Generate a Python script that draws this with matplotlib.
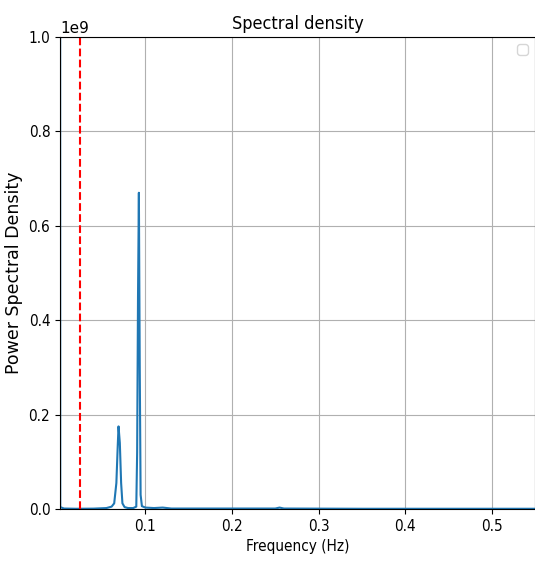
import matplotlib.pyplot as plt
import numpy as np

# frequency points (Hz) and PSD values (units of 1e9)
freqs = [0.0014, 0.0017, 0.006, 0.02, 0.04, 0.055, 0.061, 0.064, 0.0665, 0.068,
         0.069, 0.0705, 0.072, 0.0735, 0.076, 0.08, 0.086, 0.0895, 0.0905, 0.0915,
         0.0925, 0.0935, 0.0945, 0.096, 0.1, 0.11, 0.12, 0.13, 0.2, 0.25,
         0.255, 0.26, 0.35, 0.45, 0.55]
psd_e9 = [3.0, 0.004, 0.001, 0.0005, 0.0008, 0.002, 0.005, 0.012, 0.055, 0.13,
          0.175, 0.14, 0.055, 0.012, 0.004, 0.002, 0.002, 0.005, 0.12, 0.45,
          0.67, 0.3, 0.03, 0.006, 0.003, 0.002, 0.003, 0.001, 0.001, 0.001,
          0.003, 0.001, 0.0005, 0.0005, 0.0005]
cutoff = 0.025

psd = np.array(psd_e9) * 1e9

fig = plt.figure(figsize=(5.35, 5.67), dpi=100)
ax = fig.add_axes([60 / 535, 1 - 509 / 567, 475 / 535, 472 / 567])

ax.plot(freqs, psd)
ax.axvline(cutoff, color='r', linestyle='--')

ax.set_xlim(0.0014, 0.55)
ax.set_ylim(0, 1e9)
ax.grid(True)

ax.set_title('Spectral density', fontsize=13, fontstretch='condensed')
ax.set_xlabel('Frequency (Hz)', fontsize=11, fontstretch='condensed')
ax.set_ylabel('Power Spectral Density', fontsize=12.5)
ax.tick_params(labelsize=11)
for lab in ax.get_xticklabels() + ax.get_yticklabels():
    lab.set_fontstretch('condensed')
ax.yaxis.get_offset_text().set_fontsize(11)

ax.legend()

fig.savefig('out.png', dpi=100)
